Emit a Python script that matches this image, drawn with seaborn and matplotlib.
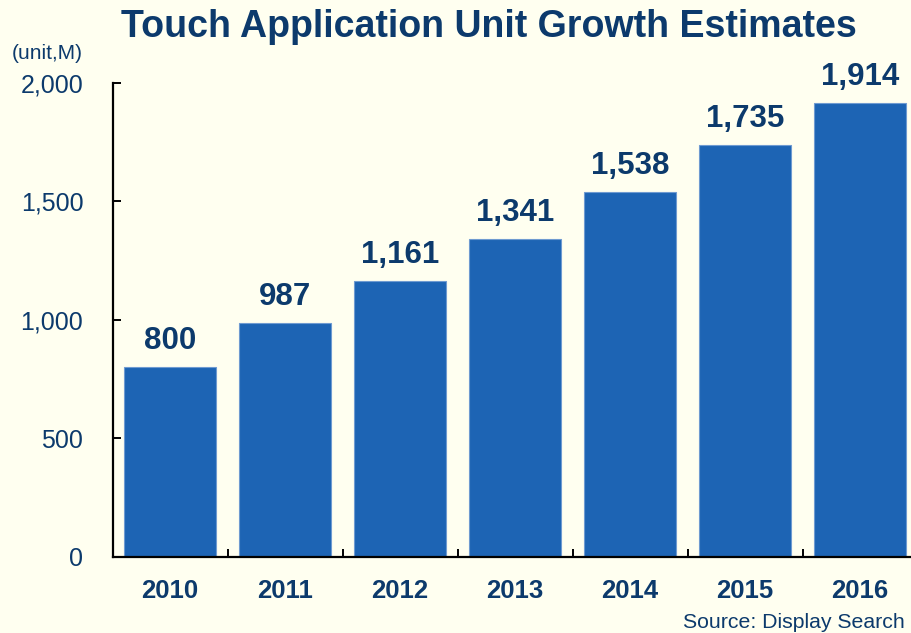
import pandas as pd
import matplotlib.pyplot as plt
import seaborn as sns
from matplotlib.ticker import FixedLocator

# Chart data
years = ["2010", "2011", "2012", "2013", "2014", "2015", "2016"]
units = [800, 987, 1161, 1341, 1538, 1735, 1914]
y_ticks = [0, 500, 1000, 1500, 2000]

navy = "#0C3A6C"
bar_blue = "#1D64B4"
bg = "#FFFFF0"

sns.set_theme(style="white")
plt.rcParams["font.family"] = ["Liberation Sans", "DejaVu Sans"]

df = pd.DataFrame({"year": years, "units": units})

fig = plt.figure(figsize=(9.11, 6.33), dpi=100, facecolor=bg)
ax = fig.add_axes([112.5 / 911, 0.1208, 805 / 911, 0.7486])
ax.set_facecolor(bg)

sns.barplot(data=df, x="year", y="units", color=bar_blue, saturation=1,
            width=0.8, edgecolor="#6f9bd1", linewidth=0.8, ax=ax)

ax.set_xlim(-0.5, 6.5)
ax.set_ylim(0, 2000)
ax.set_xlabel("")
ax.set_ylabel("")

# spines
for side in ["top", "right"]:
    ax.spines[side].set_visible(False)
for side in ["left", "bottom"]:
    ax.spines[side].set_color("black")
    ax.spines[side].set_linewidth(1.6)

# y axis
ax.set_yticks(y_ticks)
ax.set_yticklabels([f"{v:,}" for v in y_ticks])
ax.tick_params(axis="y", direction="in", length=6, width=1.4, color="black",
               labelsize=18, labelcolor=navy, pad=21, left=True)

# x axis: labels at centers, little separator ticks between categories
ax.tick_params(axis="x", which="major", length=0, labelsize=18.5,
               labelcolor=navy, pad=16.5)
for lbl in ax.get_xticklabels():
    lbl.set_fontweight("bold")
ax.xaxis.set_minor_locator(FixedLocator([0.5, 1.5, 2.5, 3.5, 4.5, 5.5]))
ax.tick_params(axis="x", which="minor", direction="in", length=6, width=1.4,
               color="black", bottom=True)

# value labels on top of bars
for container in ax.containers:
    ax.bar_label(container, labels=[f"{v:,}" for v in units], padding=8,
                 fontsize=22.5, fontweight="bold", color=navy)

fig.text(0.537, 0.9415, "Touch Application Unit Growth Estimates",
         ha="center", va="baseline", fontsize=27, fontweight="bold", color=navy)
fig.text(0.091, 0.9068, "(unit,M)", ha="right", va="baseline",
         fontsize=15, color=navy)
fig.text(0.9934, 0.0079, "Source: Display Search", ha="right", va="baseline",
         fontsize=15.3, color=navy)

fig.savefig("out.png", dpi=100, facecolor=bg)
